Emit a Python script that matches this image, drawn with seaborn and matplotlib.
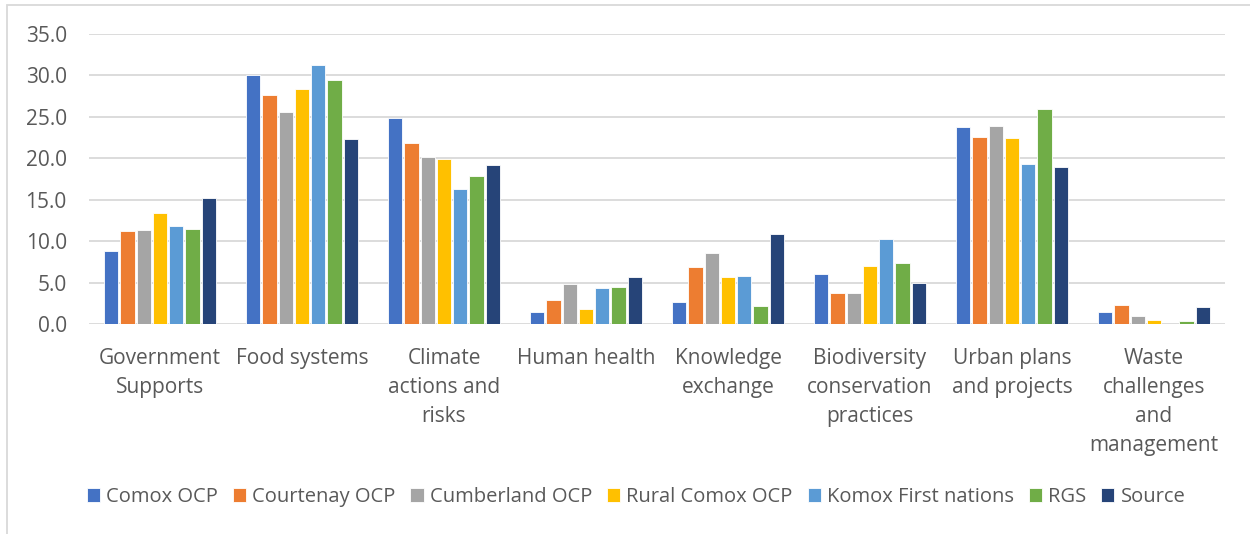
import numpy as np
import pandas as pd
import seaborn as sns
import matplotlib.pyplot as plt
from matplotlib.patches import Rectangle

categories = ['Government\nSupports', 'Food systems', 'Climate\nactions and\nrisks',
              'Human health', 'Knowledge\nexchange', 'Biodiversity\nconservation\npractices',
              'Urban plans\nand projects', 'Waste\nchallenges\nand\nmanagement']
series = ['Comox OCP', 'Courtenay OCP', 'Cumberland OCP', 'Rural Comox OCP',
          'Komox First nations', 'RGS', 'Source']

comox = [8.8, 30.0, 24.9, 1.5, 2.6, 6.0, 23.8, 1.5]
courtenay = [11.2, 27.6, 21.8, 2.9, 6.9, 3.7, 22.6, 2.3]
cumberland = [11.4, 25.6, 20.2, 4.8, 8.6, 3.7, 23.9, 1.0]
rural_comox = [13.4, 28.4, 19.9, 1.8, 5.7, 7.0, 22.5, 0.5]
komox_fn = [11.8, 31.3, 16.3, 4.3, 5.8, 10.3, 19.3, 0.0]
rgs = [11.5, 29.4, 17.9, 4.5, 2.2, 7.4, 25.9, 0.4]
source = [15.2, 22.3, 19.2, 5.7, 10.9, 4.9, 19.0, 2.0]

palette = ['#4472C4', '#ED7D31', '#A5A5A5', '#FFC000', '#5B9BD5', '#70AD47', '#264478']

values = [comox, courtenay, cumberland, rural_comox, komox_fn, rgs, source]
df = pd.DataFrame({
    'Category': np.tile(categories, len(series)),
    'Series': np.repeat(series, len(categories)),
    'Value': np.concatenate(values),
})

sns.set_style('white')
plt.rcParams['font.family'] = ['Open Sans', 'DejaVu Sans']
text_color = '#595959'

fig = plt.figure(figsize=(12.5, 5.34), dpi=100)
ax = fig.add_axes([89 / 1250, 1 - 324 / 534, (1225 - 89) / 1250, (324 - 34) / 534])

sns.barplot(data=df, x='Category', y='Value', hue='Series', palette=palette,
            order=categories, hue_order=series, width=0.8, gap=0.12, saturation=1,
            edgecolor='white', linewidth=0.6, ax=ax, zorder=3)

ax.set_ylim(0, 35)
ax.set_xlim(-0.5, len(categories) - 0.5)
ax.set_yticks(np.arange(0, 36, 5))
ax.set_yticklabels([f'{v:.1f}' for v in np.arange(0, 36, 5)])
ax.yaxis.grid(True, color='#D9D9D9', linewidth=1.3, zorder=0)
ax.set_axisbelow(True)
for s in ax.spines.values():
    s.set_visible(False)
ax.set_xlabel('')
ax.set_ylabel('')
ax.tick_params(axis='y', length=0, pad=16, labelsize=15, labelcolor=text_color)
ax.tick_params(axis='x', length=0, pad=17, labelsize=15, labelcolor=text_color)
for lbl in ax.get_xticklabels():
    lbl.set_linespacing(1.5)
    lbl.set_verticalalignment('top')

handles, labels = ax.get_legend_handles_labels()
ax.get_legend().remove()
fig.legend(handles, labels, loc='center', bbox_to_anchor=(636 / 1250, 1 - 497 / 534),
           ncol=7, frameon=False, fontsize=14.5, labelcolor=text_color,
           handlelength=0.65, handleheight=0.65, handletextpad=0.3, columnspacing=0.75)

fig.patches.append(Rectangle((7 / 1250, -0.1), 1.2, 1 - 5 / 534 + 0.1,
                             transform=fig.transFigure, fill=False,
                             edgecolor='#D9D9D9', linewidth=1.3))

fig.savefig('out.png', dpi=100)
